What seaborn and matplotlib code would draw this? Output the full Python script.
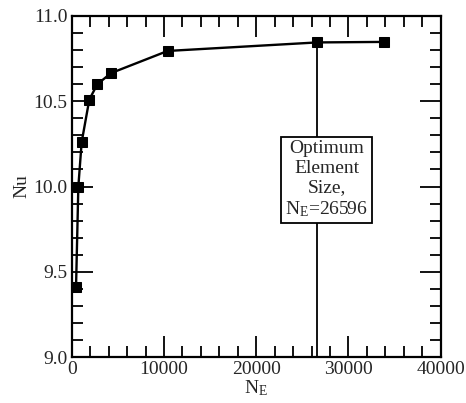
import matplotlib
matplotlib.use("Agg")
import matplotlib.pyplot as plt
import seaborn as sns
import pandas as pd
from matplotlib.ticker import MultipleLocator, FormatStrFormatter

# Data
n_elements = [470, 720, 1080, 1910, 2780, 4260, 10400, 26596, 33820]
nusselt = [9.41, 10.00, 10.26, 10.51, 10.60, 10.665, 10.795, 10.845, 10.848]
optimum_ne = 26596
optimum_nu = 10.845
x_ticks = [0, 10000, 20000, 30000, 40000]
y_ticks = [9.0, 9.5, 10.0, 10.5, 11.0]

sns.set_style("ticks")
plt.rcParams['font.family'] = ['Liberation Serif', 'DejaVu Serif']
plt.rcParams['mathtext.fontset'] = 'custom'
plt.rcParams['mathtext.rm'] = 'Liberation Serif'
plt.rcParams['mathtext.it'] = 'Liberation Serif:italic'

df = pd.DataFrame({"NE": n_elements, "Nu": nusselt})

fig = plt.figure(figsize=(4.66, 4.03), dpi=100)
ax = fig.add_axes([71.7/466, 1 - 357/403, (440.7-71.7)/466, (357-16)/403])

sns.lineplot(data=df, x="NE", y="Nu", ax=ax, color="black", linewidth=1.7,
             marker="s", markersize=7, markeredgecolor="black", markerfacecolor="black")

ax.vlines(optimum_ne, y_ticks[0], optimum_nu, color="black", linewidth=1.3, zorder=1)

ax.text(27620, 10.04, "Optimum\nElement\nSize,\nN$_{\\mathrm{E}}$=26596",
        ha="center", va="center", multialignment="center", fontsize=14,
        linespacing=1.2,
        bbox=dict(boxstyle="square,pad=0.2", fc="white", ec="black", lw=1.3), zorder=5)

ax.set_xlim(x_ticks[0], x_ticks[-1])
ax.set_ylim(y_ticks[0], y_ticks[-1])
ax.set_xticks(x_ticks)
ax.set_yticks(y_ticks)
ax.xaxis.set_minor_locator(MultipleLocator(2000))
ax.yaxis.set_minor_locator(MultipleLocator(0.1))
ax.yaxis.set_major_formatter(FormatStrFormatter("%.1f"))

ax.tick_params(which="both", direction="in", top=True, right=True, color="black", width=1.3)
ax.tick_params(which="major", length=15, labelsize=14, pad=3)
ax.tick_params(which="minor", length=8)
for s in ax.spines.values():
    s.set_linewidth(1.6)
    s.set_color("black")

ax.set_xlabel("N$_{\\mathrm{E}}$", fontsize=14, labelpad=0)
ax.set_ylabel("Nu", fontsize=14, labelpad=2)

fig.savefig("out.png", dpi=100)
